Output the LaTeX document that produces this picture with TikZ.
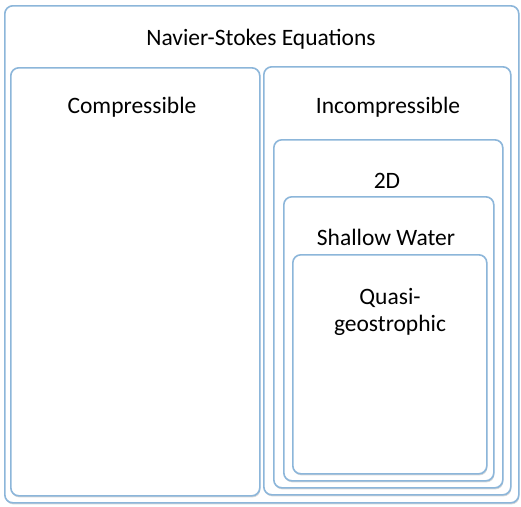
\documentclass[tikz,border=0pt]{standalone}
\usepackage{fontspec}
\setmainfont{Carlito}
\usetikzlibrary{shadows}
\definecolor{boxblue}{RGB}{140,182,218}
\tikzset{
  box/.style={draw=boxblue, line width=1.6pt, rounded corners=8pt, fill=white, inner sep=0pt, anchor=north west,
    drop shadow={shadow xshift=0.6pt, shadow yshift=-1.6pt, opacity=0.25, fill=black!60}},
  lbl/.style={font=\fontsize{23.5}{27}\selectfont, text=black, inner sep=0pt, align=center}
}
\newcommand{\mkbox}[5]{\node[box, minimum width=#4-#2, minimum height=#5-#3] (#1) at (#2,#3) {};}
\begin{document}
\begin{tikzpicture}[x=1pt,y=-1pt]
\useasboundingbox (0,0) rectangle (521,506);
\mkbox{outer}{4}{5}{518}{502}
\mkbox{comp}{10}{67}{259}{495}
\mkbox{incomp}{263}{66}{510}{494}
\mkbox{twod}{273}{139}{502}{487}
\mkbox{sw}{283}{196}{493}{480}
\mkbox{qg}{292}{254}{486}{473}
\node[lbl] (tns) at (261,39) {Navier-Stokes Equations};
\node[lbl] (tcomp) at (132,107) {Compressible};
\node[lbl] (tincomp) at (388,107) {Incompressible};
\node[lbl] (t2d) at (387,181) {2D};
\node[lbl] (tsw) at (386,237) {Shallow Water};
\node[lbl] (tqg) at (390,312) {Quasi-\\geostrophic};
\end{tikzpicture}
\end{document}
